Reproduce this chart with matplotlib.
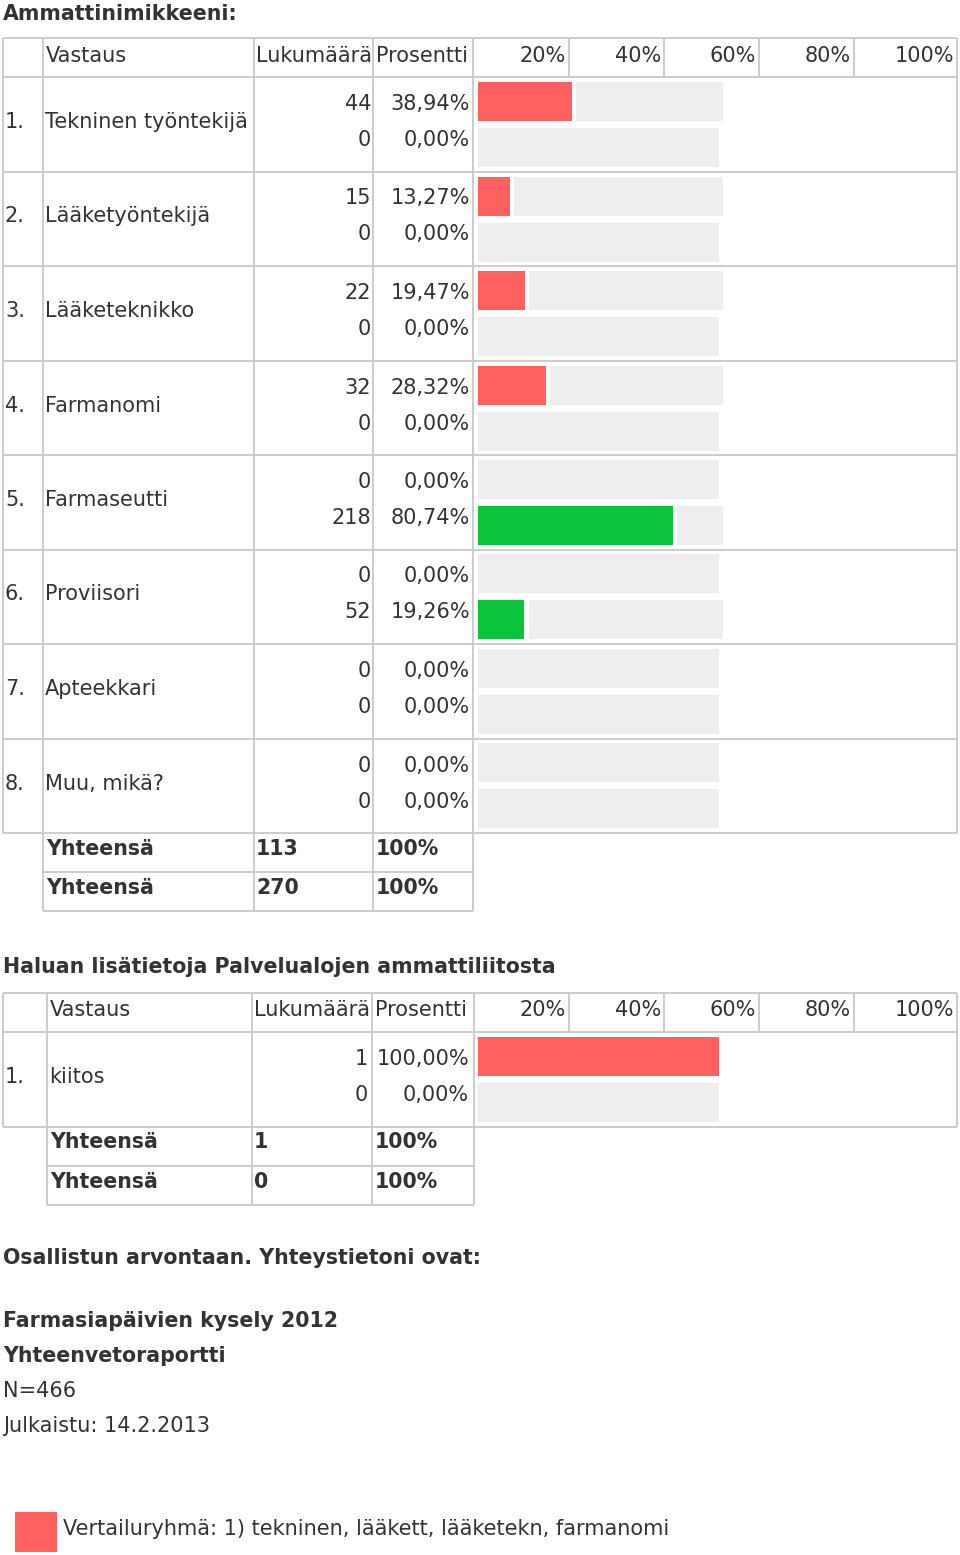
import matplotlib
matplotlib.use('Agg')
import matplotlib.pyplot as plt
from matplotlib.patches import Rectangle

# ---------------- data ----------------
title1 = "Ammattinimikkeeni:"
header_cols = ["Vastaus", "Lukumäärä", "Prosentti"]
scale_labels = ["20%", "40%", "60%", "80%", "100%"]

categories1 = ["Tekninen työntekijä", "Lääketyöntekijä", "Lääketeknikko", "Farmanomi",
               "Farmaseutti", "Proviisori", "Apteekkari", "Muu, mikä?"]
counts1_a = [44, 15, 22, 32, 0, 0, 0, 0]
pct1_a = [38.94, 13.27, 19.47, 28.32, 0.0, 0.0, 0.0, 0.0]
counts1_b = [0, 0, 0, 0, 218, 52, 0, 0]
pct1_b = [0.0, 0.0, 0.0, 0.0, 80.74, 19.26, 0.0, 0.0]
totals1_counts = [113, 270]
totals1_pct = ["100%", "100%"]

title2 = "Haluan lisätietoja Palvelualojen ammattiliitosta"
categories2 = ["kiitos"]
counts2_a = [1]
pct2_a = [100.0]
counts2_b = [0]
pct2_b = [0.0]
totals2_counts = [1, 0]
totals2_pct = ["100%", "100%"]
totals_label = "Yhteensä"

title3 = "Osallistun arvontaan. Yhteystietoni ovat:"
report_title = "Farmasiapäivien kysely 2012"
report_sub = "Yhteenvetoraportti"
report_n = "N=466"
report_date = "Julkaistu: 14.2.2013"
legend_label = "Vertailuryhmä: 1) tekninen, lääkett, lääketekn, farmanomi"

# ---------------- style ----------------
W, H, DPI = 960, 1555, 100
FS = 15.0
FSB = 14.8
TXT = '#333333'
LINE = '#c8c8c8'
RED = '#ff6060'
GREEN = '#0cc43c'
GRAY = '#eeeeee'
LW = 1.3

plt.rcParams['font.family'] = ['DejaVu Sans']

fig = plt.figure(figsize=(W / DPI, H / DPI), dpi=DPI)
ax = fig.add_axes([0, 0, 1, 1])
ax.set_xlim(0, W)
ax.set_ylim(H, 0)
ax.axis('off')


def txt(x, y, s, ha='left', bold=False):
    ax.text(x, y, s, ha=ha, va='baseline', fontsize=FSB if bold else FS, color=TXT,
            fontweight='bold' if bold else 'normal')


def fmt(v):
    return f"{v:.2f}".replace('.', ',') + '%'


def hline(y, x0, x1):
    ax.plot([x0, x1], [y, y], color=LINE, lw=LW, solid_capstyle='butt')


def vline(x, y0, y1):
    ax.plot([x, x], [y0, y1], color=LINE, lw=LW, solid_capstyle='butt')


def draw_table(top, cols, cats, ca, pa, cb, pb, tot_counts, tot_pct,
               num_x, lab_x, cnt_r, pct_r, head_h=39, row_h=94.5, tot_h=39):
    left, c1, c2, c3, c4, right = cols
    scale_x = [569, 664, 759, 854]
    rows_top = top + head_h
    rows_bot = rows_top + row_h * len(cats)
    # header
    hline(top, left, right)
    hline(rows_top, left, right)
    for x in [left, c1, c2, c3, c4] + scale_x + [right]:
        vline(x, top, rows_top)
    txt(c1 + 3, top + 23.5, header_cols[0])
    txt(c2 + 2, top + 23.5, header_cols[1])
    txt(c3 + 3, top + 23.5, header_cols[2])
    rights = scale_x + [right]
    for lab, r in zip(scale_labels, rights):
        txt(r - 3, top + 23.5, lab, ha='right')
    # rows
    for i, cat in enumerate(cats):
        rt = rows_top + i * row_h
        hline(rt + row_h, left, right)
        for x in [left, c1, c2, c3, c4, right]:
            vline(x, rt, rt + row_h)
        txt(num_x, rt + 51, f"{i + 1}.")
        txt(lab_x, rt + 51, cat)
        txt(cnt_r, rt + 33, str(ca[i]), ha='right')
        txt(pct_r, rt + 33, fmt(pa[i]), ha='right')
        txt(cnt_r, rt + 69, str(cb[i]), ha='right')
        txt(pct_r, rt + 69, fmt(pb[i]), ha='right')
    # bars
    bax = fig.add_axes([478 / W, 1 - rows_bot / H, 241 / W, (rows_bot - rows_top) / H])
    bax.set_xlim(0, 100)
    bax.set_ylim(rows_bot, rows_top)
    bax.axis('off')
    gap = 1.7
    for i in range(len(cats)):
        rt = rows_top + i * row_h
        for val, col, yc in ((pa[i], RED, rt + 24.5), (pb[i], GREEN, rt + 70.5)):
            if val > 0:
                bax.barh(yc, val, height=39, color=col, clip_on=False)
                if val < 100:
                    bax.barh(yc, 100 - val, left=val + gap, height=39,
                             color=GRAY, clip_on=False)
            else:
                bax.barh(yc, 100, height=39, color=GRAY, clip_on=False)
    # totals
    y = rows_bot
    for cnt, p in zip(tot_counts, tot_pct):
        hline(y + tot_h, c1, c4)
        for x in [c1, c2, c3, c4]:
            vline(x, y, y + tot_h)
        txt(c1 + 3, y + 22, totals_label, bold=True)
        txt(c2 + 2, y + 22, str(cnt), bold=True)
        txt(c3 + 3, y + 22, p, bold=True)
        y += tot_h


txt(3, 20, title1, bold=True)
draw_table(38, [3, 43, 254, 373, 473, 957], categories1, counts1_a, pct1_a,
           counts1_b, pct1_b, totals1_counts, totals1_pct,
           num_x=5, lab_x=45, cnt_r=371, pct_r=470)

txt(3, 973, title2, bold=True)
draw_table(993, [3, 47, 252, 372, 474, 957], categories2, counts2_a, pct2_a,
           counts2_b, pct2_b, totals2_counts, totals2_pct,
           num_x=5, lab_x=49, cnt_r=368, pct_r=469)

txt(3, 1264, title3, bold=True)
txt(3, 1327, report_title, bold=True)
txt(3, 1362, report_sub, bold=True)
txt(3, 1397, report_n)
txt(3, 1432, report_date)

ax.add_patch(Rectangle((15, 1512), 42, 40, facecolor=RED, edgecolor='none'))
txt(63, 1535, legend_label)

fig.savefig('out.png', dpi=DPI)
